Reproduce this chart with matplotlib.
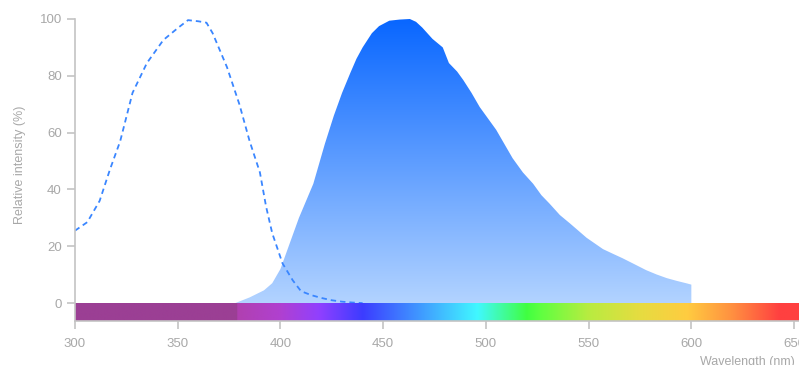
import numpy as np
import matplotlib
matplotlib.use('Agg')
from matplotlib import pyplot as plt
from matplotlib.colors import to_rgb

plt.rcParams['font.family'] = ['Liberation Sans', 'DejaVu Sans']

# excitation spectrum (dashed)
ex_nm = [300, 306, 312, 317, 322, 328, 335, 343, 350, 355, 360, 364, 367, 374,
         380, 385, 390, 393, 396, 401, 406, 410, 415, 420, 425, 430, 435, 440]
ex_val = [25.5, 28.5, 36, 47, 57, 74, 84.5, 92.6, 96.8, 99.6, 99.2, 98.7, 95, 83,
          70, 57, 46, 34, 24.6, 14, 8, 4.2, 2.8, 1.8, 1.0, 0.5, 0.2, 0.0]

# emission spectrum (filled)
em_nm = [378, 385, 392, 396, 400, 404, 409, 416, 421.6, 426, 430, 434, 437, 440,
         444.5, 448, 453, 458, 463, 466, 469, 474, 479, 482, 486, 489, 493, 497,
         501, 505, 509, 513, 518, 523, 527, 531, 536, 541, 545, 549, 553, 557,
         562, 566.5, 572, 578, 583, 588, 593, 598, 600, 600]
em_val = [0, 2, 4.5, 7, 12, 20, 30, 42, 56, 66, 74, 81, 86, 90,
          95, 97.5, 99.4, 99.8, 100, 99, 97, 93, 90, 84.5, 81.5, 78.5, 74, 69,
          65, 61, 56, 51, 46, 42, 38, 35, 31, 28, 25.5, 23, 21, 19,
          17.3, 15.8, 13.8, 11.6, 10.1, 8.8, 7.8, 6.9, 6.5, 0]

# visible spectrum colour stops for the bar
bar_nm = [300, 378.8, 379, 400, 419, 440, 470, 496, 520, 527, 550, 575, 598, 620, 643, 653]
bar_col = ['#9b3f94', '#9b3f94', '#b040b0', '#b040d0', '#9040ff', '#3c3cff', '#40a0ff',
           '#40f8ff', '#40ff40', '#60ff40', '#b8ec40', '#e6dc40', '#ffcc40', '#ff9040',
           '#ff4040', '#ff4040']

xmin, xmax = 300, 652.4
ymin, ymax = -6.3, 100
grey = '#c4c4c4'
label_grey = '#a8a8a8'

fig = plt.figure(figsize=(7.99, 3.65), dpi=100)
ax = fig.add_axes([75 / 799, 44 / 365, 1 - 75 / 799, 302 / 365])
ax.set_xlim(xmin, xmax)
ax.set_ylim(ymin, ymax)

# emission: vertical gradient clipped to the filled area
top = np.array(to_rgb('#0866ff'))
bot = np.array(to_rgb('#b2d3ff'))
t = np.linspace(0, 1, 256)[:, None]
grad = (top * (1 - t) + bot * t)[:, None, :]
img = ax.imshow(grad, extent=(xmin, xmax, 0, 100), aspect='auto', zorder=1,
                interpolation='bilinear')
poly = ax.fill_between(em_nm, em_val, 0, color='none', lw=0)
clip = poly.get_paths()[0]
img.set_clip_path(clip, transform=ax.transData)

# excitation dashed line
ax.plot(ex_nm, ex_val, color='#3a86ff', lw=1.3, dashes=(3, 2.2), zorder=3)

# spectrum bar
wl = np.linspace(xmin, xmax, 1200)
rgb = np.array([to_rgb(c) for c in bar_col])
bar = np.stack([np.interp(wl, bar_nm, rgb[:, i]) for i in range(3)], axis=-1)
ax.imshow(bar[None, :, :], extent=(xmin, xmax, ymin, 0), aspect='auto', zorder=4,
          interpolation='bilinear')

for s in ['top', 'right']:
    ax.spines[s].set_visible(False)
for s in ['left', 'bottom']:
    ax.spines[s].set_color(grey)
    ax.spines[s].set_linewidth(1.2)
    ax.spines[s].set_zorder(5)
ax.spines['left'].set_bounds(ymin, 100)

ax.set_xticks(np.arange(300, 651, 50))
ax.set_yticks(np.arange(0, 101, 20))
ax.tick_params(axis='x', length=5.5, width=1.2, color=grey, labelcolor=label_grey,
               labelsize=9.5, pad=7)
ax.tick_params(axis='y', length=5.5, width=1.2, color=grey, labelcolor=label_grey,
               labelsize=9.5, pad=4)

fig.text(20 / 799, 1 - 165 / 365, 'Relative intensity (%)', rotation=90, ha='center',
         va='center', color=label_grey, fontsize=9)
fig.text(795 / 799, 1 - 362 / 365, 'Wavelength (nm)', ha='right', va='center',
         color=label_grey, fontsize=9)

fig.savefig('out.png', dpi=100)
